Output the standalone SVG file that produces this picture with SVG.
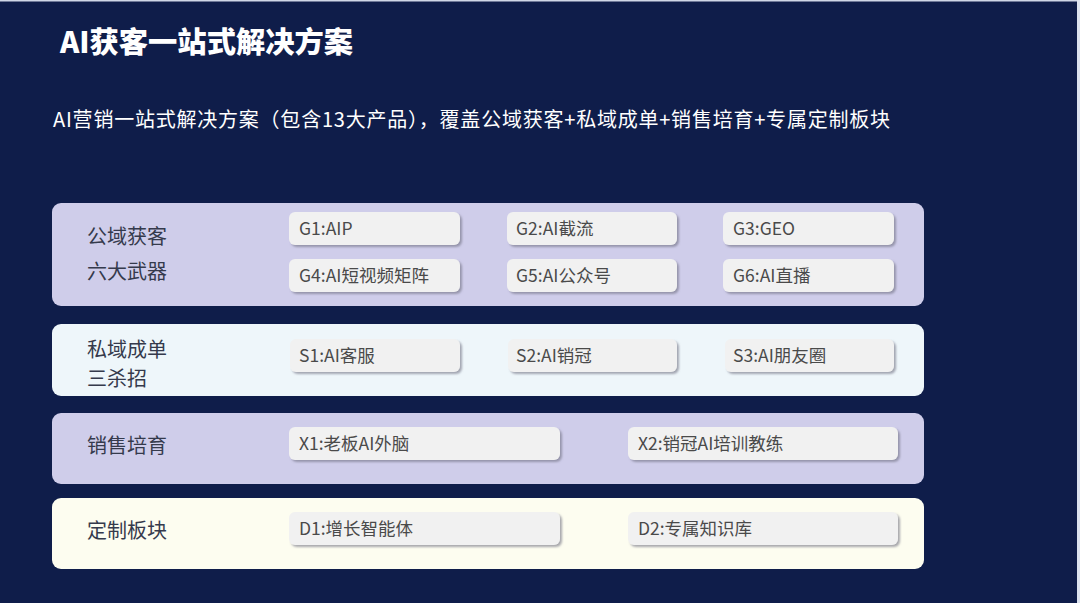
<svg xmlns="http://www.w3.org/2000/svg" width="1080" height="603" viewBox="0 0 1080 603">
<style>
.bg{fill:#0f1d4a}
.title{font-family:"Noto Sans CJK SC","Liberation Sans",sans-serif;font-size:29px;font-weight:900;fill:#ffffff}
.sub{font-family:"Noto Sans CJK SC","Liberation Sans",sans-serif;font-size:20px;fill:#ffffff}
.panel{stroke:none}
.p1{fill:#cfcdea}
.p2{fill:#eef6fa}
.p4{fill:#fdfdf0}
.lab{font-family:"Noto Sans CJK SC","Liberation Sans",sans-serif;font-size:20px;fill:#353a4c}
.box{fill:#f1f1f1;filter:url(#sh)}
.bt{font-family:"Noto Sans CJK SC","Liberation Sans",sans-serif;font-size:17.5px;fill:#4a4a4a}
</style>
<defs>
<filter id="sh" x="-10%" y="-30%" width="120%" height="170%">
<feDropShadow dx="2" dy="2" stdDeviation="1" flood-color="#6e6e80" flood-opacity="0.6"/>
</filter>
</defs>
<rect class="bg" x="0" y="0" width="1080" height="603"/>
<rect x="0" y="0" width="1080" height="1.5" fill="#cfd6e6"/>
<rect x="1077" y="0" width="3" height="603" fill="#dde3ef"/>
<text class="title" x="60" y="53" textLength="293" lengthAdjust="spacingAndGlyphs">AI获客一站式解决方案</text>
<text class="sub" x="53" y="127" textLength="837" lengthAdjust="spacing">AI营销一站式解决方案（包含13大产品），覆盖公域获客+私域成单+销售培育+专属定制板块</text>
<g id="panel-gongyu">
<rect class="panel p1" x="52" y="203" width="872" height="103" rx="9"/>
<text class="lab" x="87" y="244">公域获客</text>
<text class="lab" x="87" y="279">六大武器</text>
</g>
<g id="G1"><rect class="box" x="289" y="212" width="171" height="33" rx="6"/><text class="bt" x="299" y="235">G1:AIP</text></g>
<g id="G2"><rect class="box" x="507" y="212" width="170" height="33" rx="6"/><text class="bt" x="516" y="235">G2:AI截流</text></g>
<g id="G3"><rect class="box" x="723" y="212" width="171" height="33" rx="6"/><text class="bt" x="733" y="235">G3:GEO</text></g>
<g id="G4"><rect class="box" x="289" y="259" width="171" height="33" rx="6"/><text class="bt" x="299" y="282">G4:AI短视频矩阵</text></g>
<g id="G5"><rect class="box" x="507" y="259" width="170" height="33" rx="6"/><text class="bt" x="516" y="282">G5:AI公众号</text></g>
<g id="G6"><rect class="box" x="723" y="259" width="171" height="33" rx="6"/><text class="bt" x="733" y="282">G6:AI直播</text></g>
<g id="panel-siyu">
<rect class="panel p2" x="52" y="324" width="872" height="72" rx="9"/>
<text class="lab" x="87" y="357">私域成单</text>
<text class="lab" x="87" y="386">三杀招</text>
</g>
<g id="S1"><rect class="box" x="290" y="339" width="170" height="33" rx="6"/><text class="bt" x="299" y="362">S1:AI客服</text></g>
<g id="S2"><rect class="box" x="508" y="339" width="169" height="33" rx="6"/><text class="bt" x="516" y="362">S2:AI销冠</text></g>
<g id="S3"><rect class="box" x="725" y="339" width="169" height="33" rx="6"/><text class="bt" x="733" y="362">S3:AI朋友圈</text></g>
<g id="panel-xiaoshou">
<rect class="panel p1" x="52" y="413" width="872" height="71" rx="9"/>
<text class="lab" x="87" y="453">销售培育</text>
</g>
<g id="X1"><rect class="box" x="289" y="427" width="271" height="33" rx="6"/><text class="bt" x="299" y="450">X1:老板AI外脑</text></g>
<g id="X2"><rect class="box" x="628" y="427" width="270" height="33" rx="6"/><text class="bt" x="638" y="450">X2:销冠AI培训教练</text></g>
<g id="panel-dingzhi">
<rect class="panel p4" x="52" y="498" width="872" height="71" rx="9"/>
<text class="lab" x="87" y="538">定制板块</text>
</g>
<g id="D1"><rect class="box" x="289" y="512" width="271" height="33" rx="6"/><text class="bt" x="299" y="535">D1:增长智能体</text></g>
<g id="D2"><rect class="box" x="628" y="512" width="270" height="33" rx="6"/><text class="bt" x="638" y="535">D2:专属知识库</text></g>
<g id="connectors"></g>
</svg>
